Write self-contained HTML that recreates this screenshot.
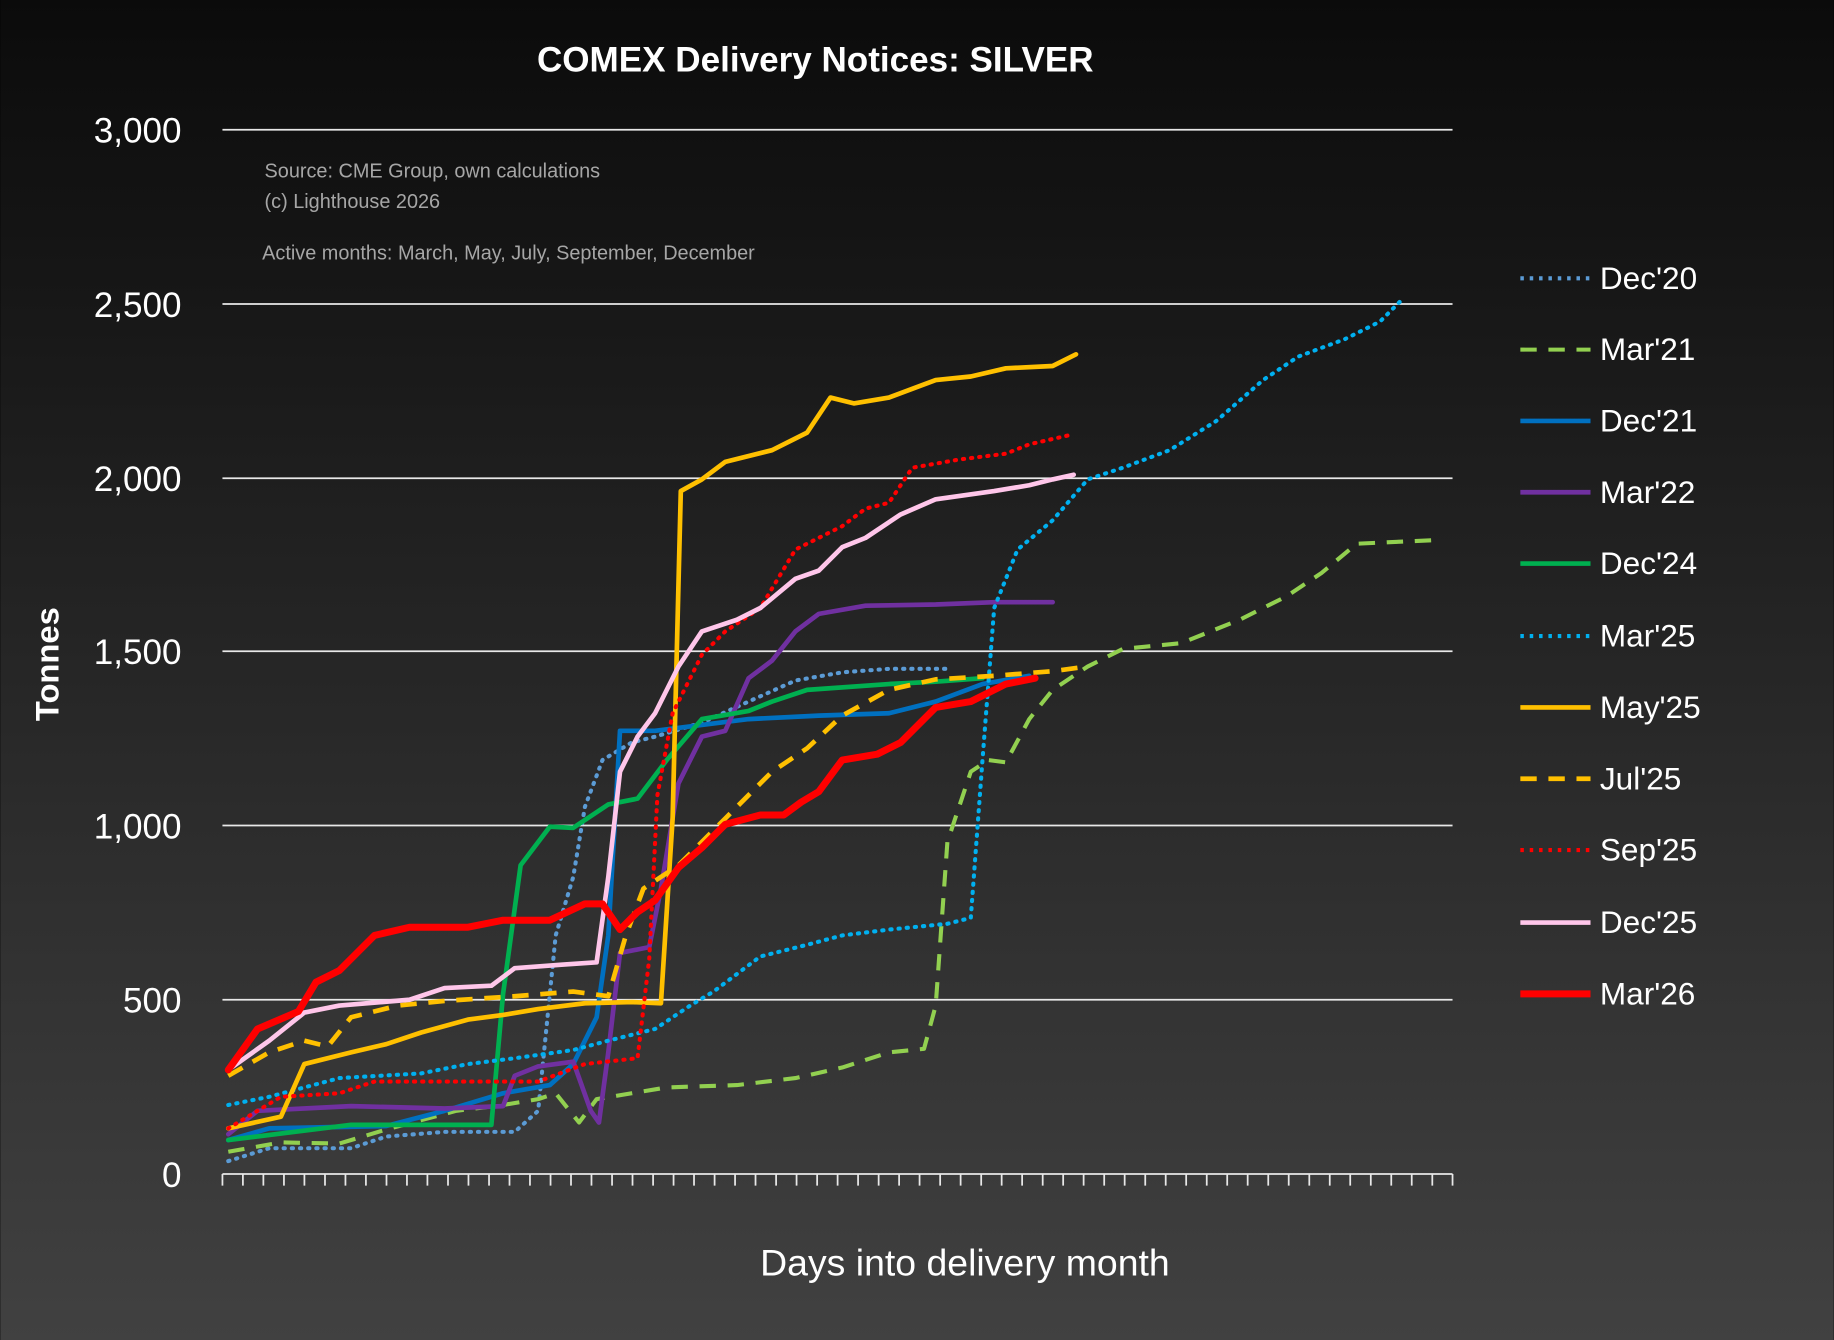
<!DOCTYPE html>
<html><head><meta charset="utf-8"><style>
html,body{margin:0;padding:0;background:#000;}
svg{display:block;}
</style></head><body>
<svg width="1834" height="1340" viewBox="0 0 1568 1146" xmlns="http://www.w3.org/2000/svg" font-family="Liberation Sans, sans-serif">
<defs><linearGradient id="bg" x1="0" y1="0" x2="0" y2="1">
<stop offset="0" stop-color="#0b0b0b"/><stop offset="1" stop-color="#414141"/></linearGradient></defs>
<rect width="1568" height="1146" fill="url(#bg)"/>
<text x="697" y="61" fill="#fff" font-size="30" font-weight="bold" text-anchor="middle">COMEX Delivery Notices: SILVER</text>
<g stroke="#e8e8e8" stroke-width="1.5">
<line x1="190" y1="111" x2="1242" y2="111"/><line x1="190" y1="260" x2="1242" y2="260"/>
<line x1="190" y1="409" x2="1242" y2="409"/><line x1="190" y1="557" x2="1242" y2="557"/>
<line x1="190" y1="706" x2="1242" y2="706"/><line x1="190" y1="855" x2="1242" y2="855"/>
<line x1="190" y1="1004" x2="1242" y2="1004"/>
</g>
<g id="ticks" stroke="#e8e8e8" stroke-width="1.5"></g>
<g fill="#fff" font-size="30" text-anchor="end">
<text x="155" y="122">3,000</text><text x="155" y="271">2,500</text><text x="155" y="420">2,000</text>
<text x="155" y="568">1,500</text><text x="155" y="717">1,000</text><text x="155" y="866">500</text><text x="155" y="1015">0</text>
</g>
<text transform="translate(50,568) rotate(-90)" fill="#fff" font-size="28" font-weight="bold" text-anchor="middle">Tonnes</text>
<text x="825" y="1091" fill="#fff" font-size="32" text-anchor="middle">Days into delivery month</text>
<g fill="#a6a6a6" font-size="17">
<text x="226" y="152">Source: CME Group, own calculations</text>
<text x="226" y="178">(c) Lighthouse 2026</text>
<text x="224" y="222">Active months: March, May, July, September, December</text>
</g>
<g fill="none" stroke-linejoin="round" stroke-linecap="round">
<polyline stroke="#5b9bd5" stroke-width="3.5" stroke-dasharray="1 6" points="195,993 230,982 300,982 330,972 380,968 440,968 460,950 475,800 490,750 500,690 515,650 540,635 560,630 600,618 640,600 680,582 720,575 760,572 810,572"/>
<polyline stroke="#92d050" stroke-width="3.5" stroke-dasharray="14 10" stroke-linecap="butt" points="195,985 240,977 290,978 330,966 390,950 430,945 460,940 475,935 495,960 510,940 540,935 570,930 630,928 680,922 720,913 760,900 790,897 800,860 810,720 830,660 845,650 860,652 880,615 900,590 930,570 960,555 1010,550 1060,530 1100,510 1130,490 1160,465 1225,462"/>
<polyline stroke="#0070c0" stroke-width="4" points="195,975 230,965 330,963 380,950 430,935 470,928 490,910 510,870 520,800 530,625 560,625 600,620 640,615 700,612 760,610 800,600 840,585 880,578"/>
<polyline stroke="#7030a0" stroke-width="4" points="195,970 220,950 300,946 380,948 430,946 440,920 460,912 490,908 505,950 512,960 520,900 530,815 555,810 565,760 580,670 600,630 620,625 640,580 660,565 680,540 700,525 740,518 800,517 850,515 900,515"/>
<polyline stroke="#00b050" stroke-width="4" points="195,975 300,962 420,962 430,850 445,740 470,707 490,708 520,688 545,683 570,650 600,615 640,608 660,600 690,590 760,585 800,583 840,580"/>
<polyline stroke="#00b0f0" stroke-width="3.5" stroke-dasharray="1 6" points="195,945 230,938 290,922 360,918 400,910 440,905 490,898 520,890 560,880 590,860 610,848 650,818 690,808 720,800 760,795 810,790 830,785 840,650 850,520 870,470 900,445 930,410 960,400 1000,385 1040,360 1080,325 1110,305 1150,290 1180,275 1200,255"/>
<polyline stroke="#ffc000" stroke-width="4" points="195,965 240,955 260,910 300,900 330,893 360,883 400,872 430,868 460,863 500,858 540,857 565,858 575,700 582,420 600,410 620,395 660,385 690,370 710,340 730,345 760,340 800,325 830,322 860,315 900,313 920,303"/>
<polyline stroke="#ffc000" stroke-width="4" stroke-dasharray="14 10" stroke-linecap="butt" points="195,920 230,900 260,890 280,895 300,870 340,860 380,856 440,852 490,848 520,852 535,800 550,760 580,740 620,700 660,660 690,640 720,612 760,590 800,581 850,578 900,574 930,570"/>
<polyline stroke="#ff0000" stroke-width="3.5" stroke-dasharray="1 6" points="195,965 240,938 290,935 320,925 400,925 460,925 500,910 545,905 555,820 562,680 575,610 600,560 620,540 650,520 680,470 720,450 740,435 760,430 780,400 820,393 860,388 880,380 915,372"/>
<polyline stroke="#ffc6ea" stroke-width="4" points="195,915 230,890 260,866 290,860 350,855 380,845 420,843 440,828 480,825 510,823 520,750 530,660 545,630 560,610 580,570 600,540 630,530 650,520 680,495 700,488 720,468 740,460 770,440 800,427 850,420 880,415 900,410 918,406"/>
<polyline stroke="#ff0000" stroke-width="6" points="195,915 220,880 255,865 270,840 290,830 320,800 350,793 400,793 430,787 470,787 500,773 515,773 530,795 545,780 560,770 580,742 600,725 620,705 650,697 670,697 685,686 700,677 720,650 750,645 770,635 800,605 830,600 860,585 885,580"/>
</g>
<g fill="none" stroke-linecap="butt">
<line x1="1300" y1="238" x2="1360" y2="238" stroke="#5b9bd5" stroke-width="3.5" stroke-dasharray="3 5"/>
<line x1="1300" y1="299" x2="1360" y2="299" stroke="#92d050" stroke-width="3.5" stroke-dasharray="14 10"/>
<line x1="1300" y1="360" x2="1360" y2="360" stroke="#0070c0" stroke-width="4"/>
<line x1="1300" y1="421" x2="1360" y2="421" stroke="#7030a0" stroke-width="4"/>
<line x1="1300" y1="482" x2="1360" y2="482" stroke="#00b050" stroke-width="4"/>
<line x1="1300" y1="544" x2="1360" y2="544" stroke="#00b0f0" stroke-width="3.5" stroke-dasharray="3 5"/>
<line x1="1300" y1="605" x2="1360" y2="605" stroke="#ffc000" stroke-width="4"/>
<line x1="1300" y1="666" x2="1360" y2="666" stroke="#ffc000" stroke-width="4" stroke-dasharray="14 10"/>
<line x1="1300" y1="727" x2="1360" y2="727" stroke="#ff0000" stroke-width="3.5" stroke-dasharray="3 5"/>
<line x1="1300" y1="789" x2="1360" y2="789" stroke="#ffc6ea" stroke-width="4"/>
<line x1="1300" y1="850" x2="1360" y2="850" stroke="#ff0000" stroke-width="6"/>
</g>
<g fill="#fff" font-size="27">
<text x="1368" y="247">Dec'20</text><text x="1368" y="308">Mar'21</text><text x="1368" y="369">Dec'21</text>
<text x="1368" y="430">Mar'22</text><text x="1368" y="491">Dec'24</text><text x="1368" y="553">Mar'25</text>
<text x="1368" y="614">May'25</text><text x="1368" y="675">Jul'25</text><text x="1368" y="736">Sep'25</text>
<text x="1368" y="798">Dec'25</text><text x="1368" y="859">Mar'26</text>
</g>
<g stroke="#e8e8e8" stroke-width="1.5">
<path d="M190,1004v10M207.5,1004v10M225,1004v10M242.6,1004v10M260.1,1004v10M277.7,1004v10M295.2,1004v10M312.7,1004v10M330.3,1004v10M347.8,1004v10M365.3,1004v10M382.9,1004v10M400.4,1004v10M418,1004v10M435.5,1004v10M453,1004v10M470.6,1004v10M488.1,1004v10M505.6,1004v10M523.2,1004v10M540.7,1004v10M558.3,1004v10M575.8,1004v10M593.3,1004v10M610.9,1004v10M628.4,1004v10M645.9,1004v10M663.5,1004v10M681,1004v10M698.6,1004v10M716.1,1004v10M733.6,1004v10M751.2,1004v10M768.7,1004v10M786.2,1004v10M803.8,1004v10M821.3,1004v10M838.9,1004v10M856.4,1004v10M873.9,1004v10M891.5,1004v10M909,1004v10M926.5,1004v10M944.1,1004v10M961.6,1004v10M979.2,1004v10M996.7,1004v10M1014.2,1004v10M1031.8,1004v10M1049.3,1004v10M1066.8,1004v10M1084.4,1004v10M1101.9,1004v10M1119.5,1004v10M1137,1004v10M1154.5,1004v10M1172.1,1004v10M1189.6,1004v10M1207.1,1004v10M1224.7,1004v10M1242,1004v10"/>
</g>
</svg>
</body></html>
